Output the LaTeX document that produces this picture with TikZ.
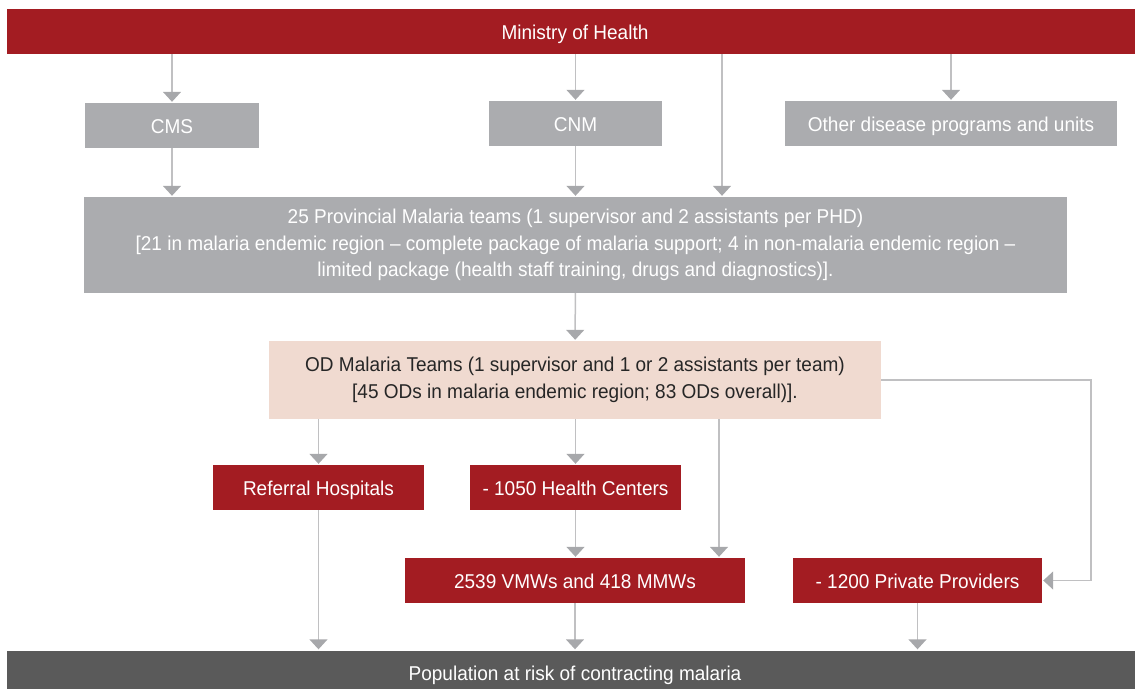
\documentclass[tikz,border=0pt]{standalone}
\usepackage{fontspec}
\setmainfont{Liberation Sans}[FakeStretch=0.95]
\usetikzlibrary{arrows.meta}
\definecolor{mohred}{RGB}{163,28,34}
\definecolor{boxgray}{RGB}{171,172,175}
\definecolor{odpink}{RGB}{240,218,208}
\definecolor{popgray}{RGB}{90,90,90}
\definecolor{linegray}{RGB}{192,192,194}
\definecolor{tipgray}{RGB}{167,168,171}
\tikzstyle{redbox} = [rectangle, minimum height=45pt, inner sep=0pt, text height=15pt, text depth=0pt, text centered, fill=mohred, text=white]
\tikzstyle{graybox} = [rectangle, minimum height=45pt, inner sep=0pt, text height=15pt, text depth=0pt, text centered, fill=boxgray, text=white]
\tikzstyle{odbox} = [rectangle, minimum height=78pt, inner sep=0pt, align=center, fill=odpink, text={black!85}]
\tikzstyle{popbox} = [rectangle, minimum height=45pt, inner sep=0pt, text height=15pt, text depth=0pt, text centered, fill=popgray, text=white]
\tikzstyle{arrow} = [line width=1.5pt, draw=linegray, -{Triangle[width=18pt,length=10pt,color=tipgray]}, shorten >=1pt]

\begin{document}
\begin{tikzpicture}[x=1pt, y=-1pt, font=\fontsize{20}{26.5}\selectfont]
\useasboundingbox (0,0) rectangle (1135,688);
\node(mh)[redbox, minimum width=1136pt] at (575,31.5) {Ministry of Health};
\node(cms)[graybox, minimum width=174pt] at (172,125.5) {CMS};
\node(cnm)[graybox, minimum width=173pt] at (575.5,123.5) {CNM};
\node(other)[graybox, minimum width=332pt] at (951,123.5) {Other disease programs and units};
\node(prov)[graybox, minimum width=983pt, minimum height=96pt, text height=, text depth=, align=center] at (575.5,245)
  {25 Provincial Malaria teams (1 supervisor and 2 assistants per PHD)\\
   {[}21 in malaria endemic region -- complete package of malaria support; 4 in non-malaria endemic region --\\
   limited package (health staff training, drugs and diagnostics){]}.};
\node(od)[odbox, minimum width=612pt] at (575,380)
  {OD Malaria Teams (1 supervisor and 1 or 2 assistants per team)\\
   {[}45 ODs in malaria endemic region; 83 ODs overall){]}.};
\node(ref)[redbox, minimum width=211pt] at (318.5,487.5) {Referral Hospitals};
\node(hc)[redbox, minimum width=211pt] at (575.5,487.5) {- 1050 Health Centers};
\node(vmw)[redbox, minimum width=340pt] at (575,580.5) {2539 VMWs and 418 MMWs};
\node(pp)[redbox, minimum width=249pt] at (917.5,580.5) {- 1200 Private Providers};
\node(pop)[popbox, minimum width=1136pt] at (575,673) {Population at risk of contracting malaria};
% ministry level
\draw[arrow] (mh.south -| cms) -- (cms);
\draw[arrow] (mh.south -| cnm) -- (cnm);
\draw[arrow] (mh.south -| other) -- (other);
\coordinate(provin) at ([xshift=146.5pt]prov.north);
\draw[arrow] (mh.south -| provin) -- (provin);
\draw[arrow] (cms) -- (prov.north -| cms);
\draw[arrow] (cnm) -- (prov.north -| cnm);
\draw[arrow] (prov) -- (od);
% district level
\draw[arrow] (od.south -| ref) -- (ref);
\draw[arrow] (od.south -| hc) -- (hc);
\coordinate(vmwin) at ([xshift=144pt]vmw.north);
\draw[arrow] (od.south -| vmwin) -- (vmwin);
\draw[arrow] (hc) -- (vmw.north -| hc);
\draw[arrow] (od.east) -- ++(210,0) |- (pp.east);
% population
\draw[arrow] (ref) -- (pop.north -| ref);
\draw[arrow] (vmw) -- (pop.north -| vmw);
\draw[arrow] (pp) -- (pop.north -| pp);
\end{tikzpicture}
\end{document}
